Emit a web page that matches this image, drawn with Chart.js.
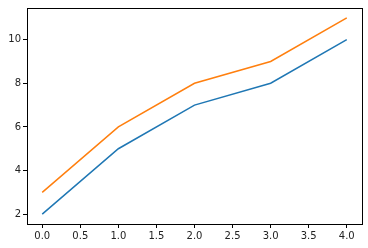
<!DOCTYPE html>
<html>
<head>
<meta charset="utf-8">
<script src="https://cdn.jsdelivr.net/npm/chart.js@4"></script>
<style>
  html, body { margin: 0; padding: 0; background: #fff; }
  #wrap { width: 368px; height: 248px; }
</style>
</head>
<body>
<div id="wrap"><canvas id="chart" width="368" height="248"></canvas></div>
<script>
const xValues = [0, 1, 2, 3, 4];
const blueSeries = [2, 5, 7, 8, 10];
const orangeSeries = [3, 6, 8, 9, 11];
const xTicks = [0, 0.5, 1, 1.5, 2, 2.5, 3, 3.5, 4];
const yTicks = [2, 4, 6, 8, 10];

const toPoints = ys => xValues.map((x, i) => ({ x, y: ys[i] }));

// draw the full box around the plot area like matplotlib
const frame = {
  id: "frame",
  afterDraw(chart) {
    const { ctx, chartArea: a } = chart;
    ctx.save();
    ctx.strokeStyle = "#000";
    ctx.lineWidth = 1;
    ctx.strokeRect(Math.round(a.left) + 0.5, Math.round(a.top) + 0.5,
      Math.round(a.right - a.left), Math.round(a.bottom - a.top));
    ctx.restore();
  }
};

const tickFont = { family: "DejaVu Sans", size: 10 };

new Chart(document.getElementById("chart"), {
  type: "line",
  data: {
    datasets: [
      { data: toPoints(blueSeries), borderColor: "#1f77b4", borderWidth: 1.5, pointRadius: 0, tension: 0 },
      { data: toPoints(orangeSeries), borderColor: "#ff7f0e", borderWidth: 1.5, pointRadius: 0, tension: 0 }
    ]
  },
  options: {
    responsive: false,
    animation: false,
    events: [],
    layout: { padding: { top: 6, right: 6, left: 0, bottom: 0 } },
    plugins: { legend: { display: false }, tooltip: { enabled: false } },
    scales: {
      x: {
        type: "linear",
        min: -0.2,
        max: 4.2,
        afterBuildTicks: s => { s.ticks = xTicks.map(v => ({ value: v })); },
        afterFit: s => { s.height = 24; },
        border: { display: false },
        grid: { drawOnChartArea: false, tickLength: 4, color: "#000", tickColor: "#000" },
        ticks: {
          color: "#222",
          font: tickFont,
          padding: 2,
          maxRotation: 0,
          autoSkip: false,
          callback: v => Number(v).toFixed(1)
        }
      },
      y: {
        type: "linear",
        min: 1.55,
        max: 11.45,
        afterBuildTicks: s => { s.ticks = yTicks.map(v => ({ value: v })); },
        afterFit: s => { s.width = 27; },
        border: { display: false },
        grid: { drawOnChartArea: false, tickLength: 4, color: "#000", tickColor: "#000" },
        ticks: {
          color: "#222",
          font: tickFont,
          padding: 2,
          autoSkip: false,
          callback: v => String(v)
        }
      }
    }
  },
  plugins: [frame]
});
</script>
</body>
</html>
